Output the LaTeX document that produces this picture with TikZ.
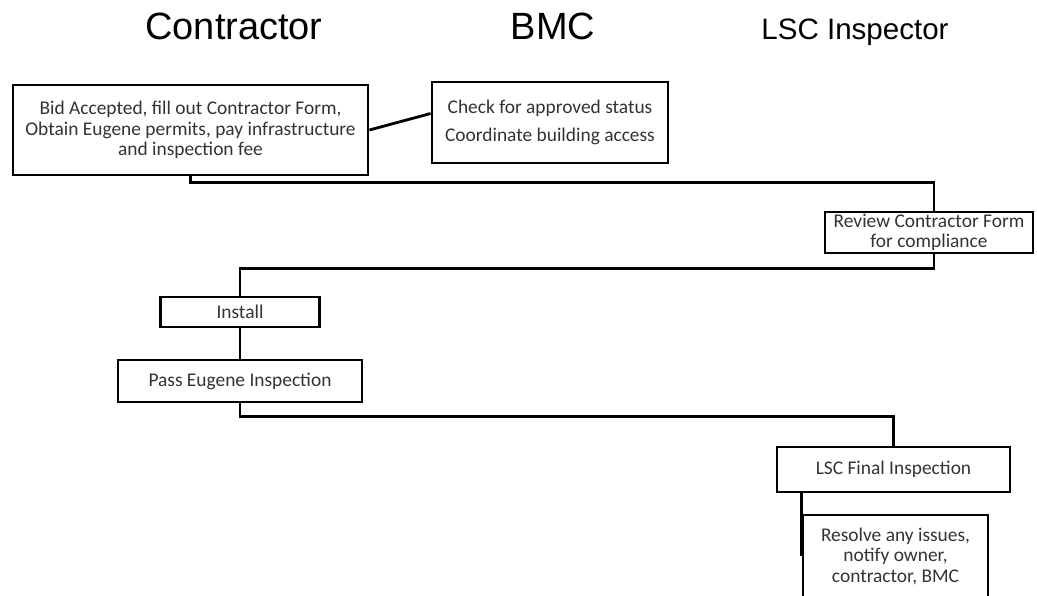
\documentclass[tikz,border=0pt]{standalone}
\usepackage{fontspec}
\setmainfont{Carlito}
\newfontfamily\headfont{Liberation Sans}
\newcommand{\unitpx}{0.025cm}

\begin{document}
\begin{tikzpicture}[x=0.025cm, y=-0.025cm, line width=2pt,
    stepbox/.style={draw, fill=white, align=center, inner sep=0pt,
      text=black!80, font=\fontsize{13.8}{14.6}\selectfont},
    head/.style={anchor=base, font=\headfont\fontsize{27}{30}\selectfont}]
  \useasboundingbox (0,0) rectangle (1037,595);
  % lane titles
  \node[head] (tcon) at (234,39) {Contractor};
  \node[head] (tbmc) at (553,39) {BMC};
  \node[head, font=\headfont\fontsize{21}{25}\selectfont] (tlsc) at (855,39) {LSC Inspector};
  % steps
  \node[stepbox, minimum width=355*\unitpx, minimum height=90*\unitpx] (bid) at (190.5,130)
    {Bid Accepted, fill out Contractor Form,\\Obtain Eugene permits, pay infrastructure\\and inspection fee};
  \node[stepbox, minimum width=236*\unitpx, minimum height=81*\unitpx] (check) at (550,122.5)
    {Check for approved status\\[5.6pt]Coordinate building access};
  \node[stepbox, minimum width=208*\unitpx, minimum height=41*\unitpx] (review) at (929,232.5)
    {Review Contractor Form\\for compliance};
  \node[stepbox, minimum width=159*\unitpx, minimum height=30*\unitpx] (install) at (240,312) {Install};
  \node[stepbox, minimum width=244*\unitpx, minimum height=42*\unitpx] (pass) at (240,381) {Pass Eugene Inspection};
  \node[stepbox, minimum width=233*\unitpx, minimum height=45*\unitpx] (final) at (893.5,469.5) {LSC Final Inspection};
  % bottom edge runs off the page
  \node[stepbox, minimum width=185*\unitpx, minimum height=100*\unitpx, text depth=14pt] (resolve) at (895.5,565)
    {Resolve any issues,\\notify owner,\\contractor, BMC};
  % links
  \draw (bid.east) -- ([yshift=9*\unitpx]check.west);
  \draw (bid.south) -- ++(0,6) -| ([xshift=5*\unitpx]review.north);
  \draw ([xshift=5*\unitpx]review.south) -- ++(0,14) -| (install.north);
  \draw (install.south) -- (pass.north);
  \draw (pass.south) -- ++(0,13) -| (final.north);
  \draw (final.south -| resolve.west) -- ++(0,63);
\end{tikzpicture}
\end{document}
